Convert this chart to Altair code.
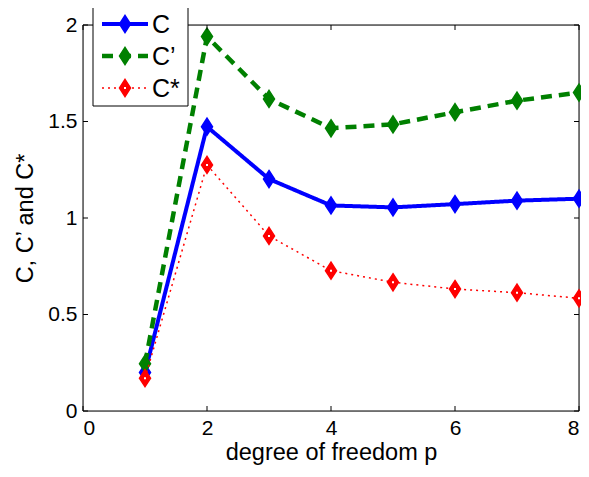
import altair as alt
import pandas as pd

# ---- data ----
p = [1, 2, 3, 4, 5, 6, 7, 8]
C = [0.20, 1.473, 1.202, 1.065, 1.055, 1.072, 1.09, 1.10]
Cp = [0.245, 1.94, 1.617, 1.465, 1.485, 1.548, 1.608, 1.65]
Cs = [0.17, 1.275, 0.907, 0.727, 0.667, 0.632, 0.613, 0.584]
series_names = ["C", "C’", "C*"]
series_colors = ["#0000ff", "#008000", "#ff0000"]
series_dash = [[1, 0], [11, 7], [2, 4]]
series_width = [4, 4.5, 1.5]
x_ticks = [0, 2, 4, 6, 8]
y_ticks = [0, 0.5, 1, 1.5, 2]

FONT = "Liberation Sans"
W, H = 496, 386
DIAMOND = "M0,-1L0.65,0L0,1L-0.65,0Z"
MSIZE = 289

rows = []
for name, vals in zip(series_names, [C, Cp, Cs]):
    for pi, v in zip(p, vals):
        rows.append({"p": pi, "val": v, "series": name})
df = pd.DataFrame(rows)

xscale = alt.Scale(domain=[0, 8], nice=False)
yscale = alt.Scale(domain=[0, 2], nice=False)

XAXIS = alt.Axis(values=x_ticks, format="d", title="degree of freedom p", grid=False,
                 domain=False, ticks=False, labelFont=FONT, labelFontSize=21,
                 labelColor="black", labelPadding=6, titleFont=FONT,
                 titleFontSize=23.5, titleFontWeight="normal", titleColor="black",
                 titlePadding=2)
YAXIS = alt.Axis(values=y_ticks, format=".1~f", title="C, C’ and C*", grid=False,
                 domain=False, ticks=False, labelFont=FONT, labelFontSize=21,
                 labelColor="black", labelPadding=6, titleFont=FONT,
                 titleFontSize=23.5, titleFontWeight="normal", titleColor="black",
                 titlePadding=10)


def X(field="p:Q"):
    return alt.X(field, scale=xscale, axis=XAXIS, title="degree of freedom p")


def Y(field="val:Q"):
    return alt.Y(field, scale=yscale, axis=YAXIS, title="C, C’ and C*")


base = alt.Chart(df)

layers = []
# frame
layers.append(base.mark_rect(fill=None, stroke="black", strokeWidth=1).transform_filter(
    alt.datum.p == 1).transform_filter(alt.datum.series == "C").encode(
    x=alt.value(0), x2=alt.value(W), y=alt.value(0), y2=alt.value(H)))

for name, col, dash, sw in zip(series_names, series_colors, series_dash, series_width):
    sub = base.transform_filter(alt.datum.series == name)
    line = sub.mark_line(color=col, strokeWidth=sw, strokeDash=dash).encode(x=X(), y=Y())
    pts = sub.mark_point(shape=DIAMOND, filled=True, color=col, size=MSIZE,
                         stroke=col, strokeWidth=1.5, opacity=1).encode(x=X(), y=Y())
    layers += [line, pts]
    if name == "C*":
        dots = sub.mark_square(color="white", size=4, opacity=1).encode(x=X(), y=Y())
        layers.append(dots)

# inward ticks on all four sides
xt = pd.DataFrame({"t": x_ticks})
yt = pd.DataFrame({"t": y_ticks})
layers.append(alt.Chart(xt).mark_rule(color="black", strokeWidth=1).encode(
    x=X("t:Q"), y=alt.value(H), y2=alt.value(H - 5)))
layers.append(alt.Chart(xt).mark_rule(color="black", strokeWidth=1).encode(
    x=X("t:Q"), y=alt.value(0), y2=alt.value(5)))
layers.append(alt.Chart(yt).mark_rule(color="black", strokeWidth=1).encode(
    y=Y("t:Q"), x=alt.value(0), x2=alt.value(5)))
layers.append(alt.Chart(yt).mark_rule(color="black", strokeWidth=1).encode(
    y=Y("t:Q"), x=alt.value(W), x2=alt.value(W - 5)))

# legend box (manual, MATLAB style)
leg_df = pd.DataFrame({"series": series_names})
leg = alt.Chart(leg_df)
layers.append(leg.mark_rect(fill="white", stroke="black", strokeWidth=1).transform_filter(
    alt.datum.series == "C").encode(
    x=alt.value(10), x2=alt.value(105), y=alt.value(-20), y2=alt.value(81)))
for i, (name, col, dash, sw) in enumerate(zip(series_names, series_colors, series_dash, series_width)):
    yy = -1 + 32 * i
    one = leg.transform_filter(alt.datum.series == name)
    layers.append(one.mark_rule(color=col, strokeWidth=sw, strokeDash=dash).encode(
        x=alt.value(19), x2=alt.value(65), y=alt.value(yy)))
    layers.append(one.mark_point(shape=DIAMOND, filled=True, color=col, size=MSIZE,
                                 stroke=col, strokeWidth=1.5, opacity=1).encode(
        x=alt.value(42), y=alt.value(yy)))
    if name == "C*":
        layers.append(one.mark_square(color="white", size=4, opacity=1).encode(
            x=alt.value(42), y=alt.value(yy)))
    layers.append(one.mark_text(align="left", baseline="middle", font=FONT, fontSize=25,
                                color="black", dy=1).encode(
        x=alt.value(69), y=alt.value(yy), text="series:N"))

chart = alt.layer(*layers).properties(
    width=W, height=H,
    autosize=alt.AutoSizeParams(type="none"),
    padding={"left": 75, "top": 17, "right": 2, "bottom": 58},
).configure_view(stroke="black", strokeWidth=1).configure(background="white")

chart.save("out.html", embed_options={"renderer": "svg", "actions": False})
